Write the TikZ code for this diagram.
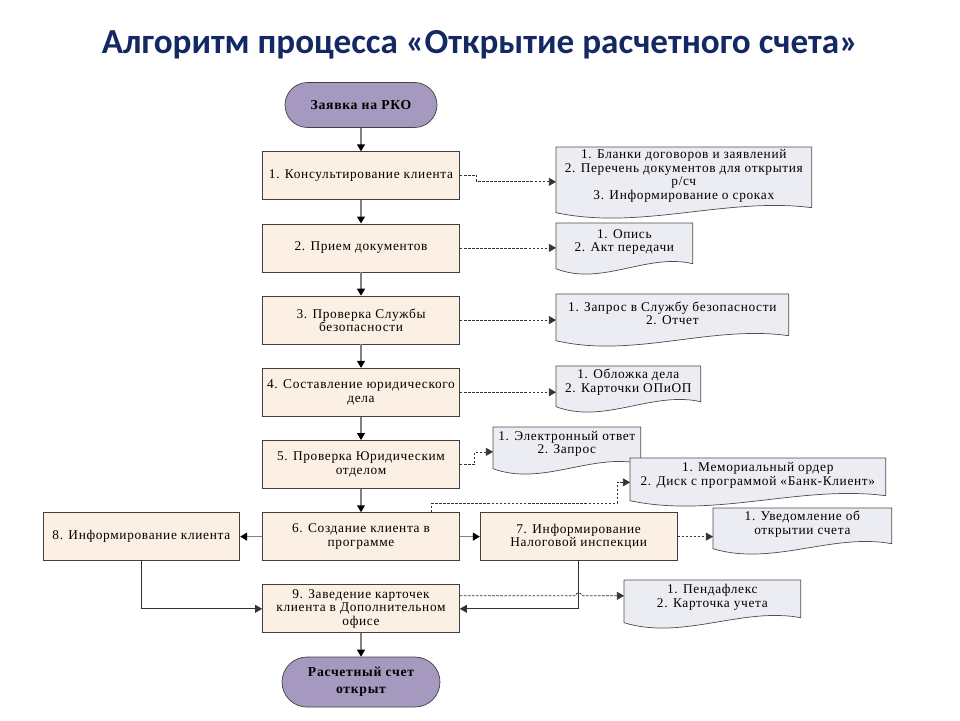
\documentclass[tikz,border=0pt]{standalone}
\usepackage{fontspec}
\setmainfont{Liberation Serif}
\newfontfamily\bodyfont[LetterSpace=5]{Liberation Serif}
\newfontfamily\titlefont{Carlito}
\usepackage{tikz}
\usetikzlibrary{positioning,calc,arrows.meta,backgrounds}
\definecolor{titleblue}{RGB}{20,40,100}
\definecolor{procfill}{RGB}{252,239,228}
\definecolor{termfill}{RGB}{165,153,192}
\definecolor{docfill}{RGB}{236,236,243}
\definecolor{flowgray}{RGB}{130,130,130}
\newcommand{\docoutline}[1]{%
  \begin{pgfonlayer}{background}
  \draw[docline] ($(#1.south west)+(0,8)$) -- (#1.north west) -- (#1.north east)
    -- ($(#1.south east)+(0,3)$)
    .. controls ($(#1.south west)!0.667!(#1.south east)+(0,-8)$) and ($(#1.south west)!0.333!(#1.south east)+(0,26)$) .. ($(#1.south west)+(0,8)$) -- cycle;
  \end{pgfonlayer}}

\begin{document}
\begin{tikzpicture}
   [x=0.02cm, y=-0.02cm, node distance=0.47cm,
    font=\bodyfont\fontsize{7.6}{7.7}\selectfont,
    proc/.style={rectangle, draw=black!75, fill=procfill, minimum width=3.94cm,
      minimum height=0.96cm, align=center, inner sep=1pt},
    term/.style={rectangle, rounded corners=0.45cm, draw=black!75, fill=termfill,
      minimum width=3.04cm, minimum height=0.9cm, align=center,
      font=\bodyfont\fontsize{7.8}{9.5}\selectfont\bfseries},
    docbox/.style={rectangle, anchor=north west, align=center, inner sep=1pt},
    docline/.style={draw=black!70, fill=docfill},
    flow/.style={draw=flowgray, line width=0.9pt, -{Triangle[color=black,length=4pt,width=4.5pt]}},
    link/.style={draw=black!80, -{Triangle[length=4pt,width=4.5pt]}},
    dataflow/.style={draw=black!80, dash pattern=on 1.5pt off 0.8pt, -{Triangle[length=4pt,width=4.5pt]}}]
\useasboundingbox (0,0) rectangle (960,720);
\node[anchor=base, text=titleblue, font=\titlefont\fontsize{20}{22}\selectfont\bfseries] (title) at (480,53)
  {Алгоритм процесса «Открытие расчетного счета»};

\node[term] (start) at (361,105) {Заявка на РКО};
\node[proc, below=of start] (p1) {1. Консультирование клиента};
\node[proc, below=of p1] (p2) {2. Прием документов};
\node[proc, below=of p2] (p3) {3. Проверка Службы\\безопасности};
\node[proc, below=of p3] (p4) {4. Составление юридического\\дела};
\node[proc, below=of p4] (p5) {5. Проверка Юридическим\\отделом};
\node[proc, below=of p5] (p6) {6. Создание клиента в\\программе};
\node[proc, right=0.4cm of p6] (p7) {7. Информирование\\Налоговой инспекции};
\node[proc, left=0.44cm of p6] (p8) {8. Информирование клиента};
\node[proc, below=of p6] (p9) {9. Заведение карточек\\клиента в Дополнительном\\офисе};
\node[term, below=of p9, minimum width=3.16cm, minimum height=1cm, rounded corners=0.5cm] (fin) {Расчетный счет\\открыт};

\node[docbox, minimum width=5.1cm, minimum height=1.14cm] (d1) at (556,147)
  {1. Бланки договоров и заявлений\\2. Перечень документов для открытия\\р/сч\\3. Информирование о сроках};
\node[docbox, minimum width=2.72cm, minimum height=0.74cm] (d2) at (556,223) {1. Опись\\2. Акт передачи};
\node[docbox, minimum width=4.64cm, minimum height=0.76cm] (d3) at (556,294) {1. Запрос в Службу безопасности\\2. Отчет};
\node[docbox, minimum width=2.88cm, minimum height=0.64cm] (d4) at (556,366) {1. Обложка дела\\2. Карточки ОПиОП};
\node[docbox, minimum width=2.94cm, minimum height=0.66cm] (d5) at (493,427) {1. Электронный ответ\\2. Запрос};
\node[docbox, minimum width=5.1cm, minimum height=0.68cm] (d6) at (630,458) {1. Мемориальный ордер\\2. Диск с программой «Банк-Клиент»};
\node[docbox, minimum width=3.56cm, minimum height=0.64cm] (d7) at (713,508) {1. Уведомление об\\открытии счета};
\node[docbox, minimum width=3.52cm, minimum height=0.68cm] (d8) at (624,580) {1. Пендафлекс\\2. Карточка учета};
\docoutline{d1}
\docoutline{d2}
\docoutline{d3}
\docoutline{d4}
\docoutline{d5}
\docoutline{d6}
\docoutline{d7}
\docoutline{d8}

\draw[flow] (start) -- (p1);
\draw[flow] (p1) -- (p2);
\draw[flow] (p2) -- (p3);
\draw[flow] (p3) -- (p4);
\draw[flow] (p4) -- (p5);
\draw[flow] (p5) -- (p6);
\draw[flow] (p6) -- (p7);
\draw[flow] (p6) -- (p8);
\draw[flow] (p9) -- (fin);
\draw[link] (p8.south) |- (p9.west);
\draw[link] (p7.south) |- (p9.east);

\draw[dataflow] (p1.east) -- ++(17,0) |- ($(d1.west)+(0,6)$);
\draw[dataflow] (p2.east) -- (p2.east -| d2.west);
\draw[dataflow] (p3.east) -- (p3.east -| d3.west);
\draw[dataflow] (p4.east) -- (p4.east -| d4.west);
\draw[dataflow] (p5.east) -- ++(15,0) |- ($(d5.west)+(0,8)$);
\draw[dataflow] ($(p6.north east)+(-28,0)$) -- ++(0,-9) -| ($(d6.west)+(-13,7)$) -- ($(d6.west)+(0,7)$);
\draw[dataflow] (p7.east) -- (p7.east -| d7.west);
\draw[dataflow] ($(p9.east)+(0,-13)$) coordinate (dn) -- ($(dn -| p7.south)+(-3,0)$)
  arc[start angle=180, end angle=0, radius=0.06cm] -- (dn -| d8.west);
\end{tikzpicture}
\end{document}
